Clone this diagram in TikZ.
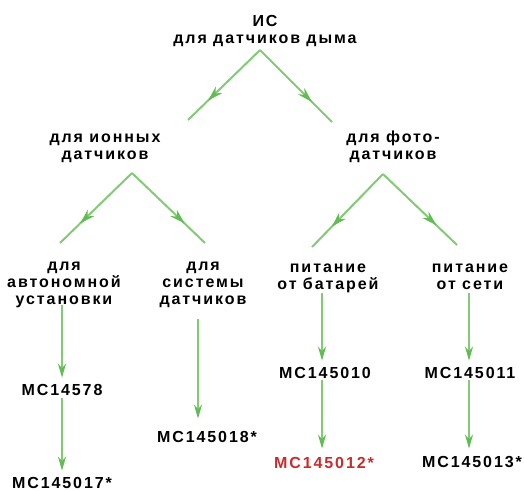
\documentclass[tikz,border=0pt]{standalone}
\usepackage{fontspec}
\setmainfont{Liberation Sans}[LetterSpace=12]
\usetikzlibrary{arrows.meta,decorations.markings}
\definecolor{arrowgreen}{RGB}{130,203,116}
\definecolor{tipgreen}{RGB}{98,188,84}
\definecolor{chipred}{RGB}{200,45,45}
\begin{document}
\begin{tikzpicture}[x=1pt,y=-1pt,
	every node/.style={font=\fontsize{16}{17}\selectfont\bfseries,align=center,inner sep=0pt,anchor=base},
	dline/.style={draw=arrowgreen,line width=2pt,postaction=decorate,
		decoration={markings,mark=at position 0.72 with {\arrow{Stealth[length=15pt,width=9pt,color=tipgreen]}}}},
	vline/.style={draw=arrowgreen,line width=2pt,-{Stealth[length=14pt,width=8pt,color=tipgreen]}}]
			\useasboundingbox (0,0) rectangle (524,490);

			%top
			\node (root) at (265,43) {ИС\\для датчиков дыма};

			%second row
			\node (ion) at (105,159) {для ионных\\датчиков};
			\node (photo) at (393,159) {для фото-\\датчиков};

			%third row
			\node (auto) at (64,304) {для\\автономной\\установки};
			\node (sys) at (203,304) {для\\системы\\датчиков};
			\node (bat) at (328,289) {питание\\от батарей};
			\node (mains) at (470,289) {питание\\от сети};

			%chips
			\node (m78) at (62,395) {MC14578};
			\node (m17) at (62,488) {MC145017*};
			\node (m18) at (207,442) {MC145018*};
			\node (m10) at (325,378) {MC145010};
			\node[text=chipred] (m12) at (324,468) {MC145012*};
			\node (m11) at (470,378) {MC145011};
			\node (m13) at (472,467) {MC145013*};

			%forks and ends
			\coordinate (f0) at (260,50);
			\coordinate (f1) at (132,173);
			\coordinate (f2) at (383,174);
			\coordinate (ion-in) at (188,120);
			\coordinate (photo-in) at (332,122);
			\coordinate (auto-in) at (60,243);
			\coordinate (sys-in) at (205,243);
			\coordinate (bat-in) at (312,247);
			\coordinate (mains-in) at (457,245);

			%edges
			\draw[dline] (f0) -- (ion-in);
			\draw[dline] (f0) -- (photo-in);
			\draw[dline] (f1) -- (auto-in);
			\draw[dline] (f1) -- (sys-in);
			\draw[dline] (f2) -- (bat-in);
			\draw[dline] (f2) -- (mains-in);
			\draw[vline] ([yshift=3]auto.south -| m78.north) -- ([yshift=6]m78.north);
			\draw[vline] ([yshift=-3]m78.south) -- ([yshift=6]m17.north);
			\draw[vline] ([xshift=-5,yshift=-12]sys.south) -- ([xshift=-9,yshift=12]m18.north);
			\draw[vline] ([xshift=-6]bat.south) -- ([xshift=-3,yshift=6]m10.north);
			\draw[vline] ([xshift=-3,yshift=-2]m10.south) -- ([xshift=-2,yshift=8]m12.north);
			\draw[vline] ([xshift=-1,yshift=-4]mains.south) -- ([xshift=-1,yshift=6]m11.north);
			\draw[vline] ([xshift=-1,yshift=-2]m11.south) -- ([xshift=-3,yshift=7]m13.north);
		\end{tikzpicture}
\end{document}
